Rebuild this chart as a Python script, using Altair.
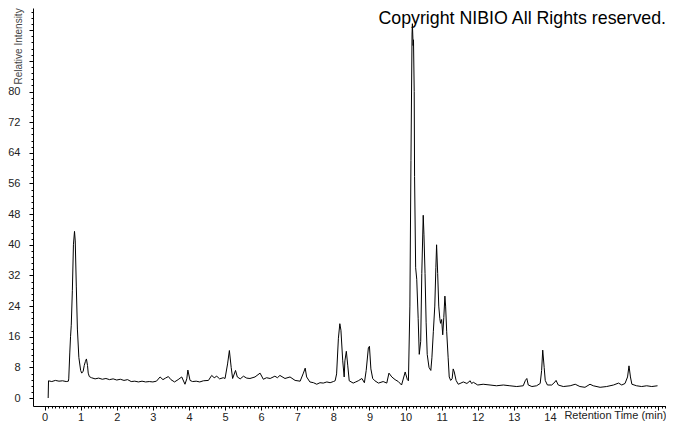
import altair as alt
import pandas as pd

# Retention time (min) and relative intensity
time_min = [
    0.10, 0.11, 0.20, 0.30, 0.40, 0.50, 0.60, 0.66, 0.67, 0.70, 0.72, 0.74, 0.77, 0.80, 0.83, 0.85,
    0.88, 0.91, 0.95, 1.00, 1.03, 1.07, 1.10, 1.13, 1.16, 1.19, 1.21, 1.24, 1.30, 1.40, 1.50, 1.60,
    1.70, 1.80, 1.90, 2.00, 2.10, 2.20, 2.30, 2.40, 2.50, 2.60, 2.70, 2.80, 2.90, 3.00, 3.10, 3.20,
    3.28, 3.35, 3.43, 3.50, 3.60, 3.70, 3.80, 3.89, 3.94, 3.97, 4.03, 4.10, 4.20, 4.30, 4.40, 4.54,
    4.63, 4.70, 4.77, 4.85, 4.95, 5.00, 5.07, 5.12, 5.17, 5.21, 5.29, 5.34, 5.42, 5.51, 5.60, 5.69,
    5.83, 5.97, 6.06, 6.15, 6.25, 6.38, 6.45, 6.52, 6.66, 6.80, 6.94, 7.08, 7.17, 7.22, 7.26, 7.35,
    7.45, 7.54, 7.63, 7.72, 7.82, 7.91, 8.00, 8.05, 8.09, 8.14, 8.18, 8.21, 8.26, 8.30, 8.32, 8.36,
    8.40, 8.44, 8.55, 8.62, 8.69, 8.79, 8.86, 8.91, 8.97, 9.00, 9.04, 9.09, 9.15, 9.25, 9.38, 9.48,
    9.54, 9.62, 9.71, 9.80, 9.89, 9.99, 10.05, 10.08, 10.12, 10.15, 10.18, 10.19, 10.21, 10.22, 10.24, 10.25,
    10.28, 10.31, 10.35, 10.38, 10.42, 10.45, 10.49, 10.51, 10.54, 10.57, 10.60, 10.65, 10.70, 10.73, 10.77, 10.81,
    10.84, 10.86, 10.89, 10.92, 10.95, 10.97, 11.00, 11.03, 11.06, 11.09, 11.11, 11.14, 11.18, 11.21, 11.25, 11.29,
    11.32, 11.35, 11.40, 11.46, 11.51, 11.60, 11.70, 11.79, 11.83, 11.88, 12.00, 12.15, 12.34, 12.52, 12.71, 12.89,
    13.08, 13.26, 13.32, 13.36, 13.40, 13.50, 13.63, 13.73, 13.77, 13.80, 13.84, 13.87, 13.93, 14.05, 14.14, 14.17,
    14.23, 14.37, 14.56, 14.70, 14.83, 14.97, 15.11, 15.20, 15.39, 15.57, 15.76, 15.90, 15.99, 16.08, 16.15, 16.19,
    16.23, 16.27, 16.40, 16.54, 16.68, 16.82, 16.98,
]
intensity = [
    0.0, 4.5, 4.3, 4.6, 4.4, 4.5, 4.3, 4.4, 5.0, 12.0, 16.0, 19.0, 28.0, 40.0, 43.5, 41.0,
    29.0, 18.0, 10.6, 7.2, 6.5, 7.0, 8.5, 9.5, 10.2, 8.5, 6.5, 5.6, 5.3, 5.0, 5.2, 4.9,
    5.1, 4.8, 5.0, 4.7, 4.9, 4.6, 4.8, 4.3, 4.4, 4.2, 4.4, 4.2, 4.3, 4.2, 4.4, 5.5,
    4.8, 5.2, 5.6, 4.8, 4.2, 4.8, 5.5, 3.6, 5.0, 7.3, 4.6, 4.3, 4.4, 4.2, 4.5, 4.6,
    5.9, 5.3, 5.7, 5.0, 5.3, 5.1, 8.9, 12.4, 8.0, 5.1, 7.2, 5.5, 5.0, 5.7, 5.2, 5.1,
    5.5, 6.5, 4.9, 5.3, 5.1, 5.7, 5.3, 5.9, 5.1, 5.5, 4.6, 4.4, 6.5, 7.8, 5.5, 4.2,
    4.0, 3.6, 4.0, 3.9, 4.2, 4.0, 4.3, 4.5, 6.3, 15.6, 19.4, 17.7, 9.7, 5.5, 9.7, 12.2,
    8.4, 4.5, 3.9, 4.2, 4.5, 5.1, 4.0, 7.2, 13.1, 13.5, 7.6, 5.1, 4.5, 3.9, 4.3, 3.9,
    6.5, 5.5, 4.8, 4.3, 3.4, 6.8, 4.8, 4.5, 24.0, 62.0, 95.0, 97.7, 92.0, 93.5, 80.0, 57.8,
    34.0, 31.0, 20.7, 11.4, 14.8, 32.5, 47.7, 42.6, 32.5, 19.8, 11.4, 8.0, 7.2, 10.5, 17.3, 24.0,
    34.0, 40.0, 32.5, 24.0, 20.7, 19.5, 20.5, 16.5, 21.0, 26.6, 24.0, 17.3, 10.5, 5.5, 4.6, 5.0,
    7.6, 6.8, 4.6, 3.6, 3.8, 4.2, 3.8, 4.5, 3.8, 4.1, 3.4, 3.6, 3.4, 3.2, 3.4, 3.2,
    3.0, 3.2, 4.6, 5.1, 3.4, 3.0, 3.2, 3.8, 7.2, 12.5, 8.0, 4.6, 3.4, 3.4, 4.2, 4.6,
    3.4, 3.0, 3.2, 3.6, 3.0, 2.8, 3.6, 3.2, 2.8, 3.0, 3.4, 3.9, 3.4, 3.8, 5.5, 8.4,
    5.5, 3.6, 3.2, 3.0, 3.2, 3.0, 3.2,
]

# Axis tick positions (major + minor)
x_ticks = [round(i * 0.1, 1) for i in range(0, 173)]
y_ticks = [round(i * 1.6, 1) for i in range(0, 64)]
x_label_max = 14
y_label_max = 80
title_text = "Copyright NIBIO All Rights reserved."

df = pd.DataFrame({"t": time_min, "v": intensity})

W, H = 633, 398
FONT = "Liberation Sans"
x_major = "abs(datum.value - round(datum.value)) < 0.001"
y_major = "abs(datum.value / 8 - round(datum.value / 8)) < 0.001"

x_axis = alt.Axis(
    values=x_ticks,
    title="Retention Time (min)",
    titleX=W, titleY=3, titleAlign="right", titleBaseline="top",
    titleFont=FONT, titleFontSize=11, titleFontWeight="normal", titleColor="#222",
    labelExpr=f"({x_major}) && datum.value <= {x_label_max} ? format(datum.value, 'd') : ''",
    tickSize={"condition": {"test": x_major, "value": 4}, "value": 2},
    labelPadding=1,
    labelFont=FONT, labelFontSize=11, labelColor="#222",
    labelOverlap=False, labelFlush=False, labelBound=False,
    grid=False, domainColor="black", tickColor="black",
    domainWidth=1, tickWidth=1,
)
y_axis = alt.Axis(
    values=y_ticks,
    title="Relative Intensity",
    titleAngle=270, titleX=-12, titleY=76, titleAlign="left", titleBaseline="alphabetic",
    titleFont=FONT, titleFontSize=10, titleFontWeight="normal", titleColor="#444",
    labelExpr=f"({y_major}) && datum.value <= {y_label_max} ? format(datum.value, 'd') : ''",
    tickSize={"condition": {"test": y_major, "value": 4}, "value": 2},
    labelPadding=9,
    labelFont=FONT, labelFontSize=11, labelColor="#222",
    labelOverlap=False, labelFlush=False, labelBound=False,
    grid=False, domainColor="black", tickColor="black",
    domainWidth=1, tickWidth=1,
)

line = alt.Chart(df).mark_line(color="black", strokeWidth=1, interpolate="linear").encode(
    x=alt.X("t:Q", scale=alt.Scale(domain=[-0.32, 17.215], nice=False, zero=False), axis=x_axis),
    y=alt.Y("v:Q", scale=alt.Scale(domain=[-2.08, 101.8], nice=False, zero=False), axis=y_axis),
)

note = alt.Chart(pd.DataFrame({"label": [title_text]})).mark_text(
    align="right", baseline="alphabetic", font=FONT, fontSize=17.8, color="black"
).encode(
    text="label:N",
    x=alt.value(W),
    y=alt.value(16),
)

chart = alt.layer(line, note).properties(
    width=W, height=H,
    autosize=alt.AutoSizeParams(type="none"),
    padding={"left": 25, "top": 0, "right": 0, "bottom": 19},
    background="white",
).configure_view(stroke=None)

chart.save("out.html", embed_options={"renderer": "svg", "actions": False})
